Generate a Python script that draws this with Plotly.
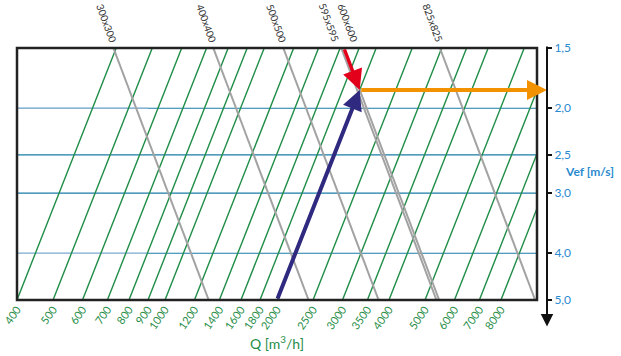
import numpy as np
import plotly.graph_objects as go

# ---- data ----
Q_ticks = [400, 500, 600, 700, 800, 900, 1000, 1200, 1400, 1600, 1800, 2000,
           2500, 3000, 3500, 4000, 5000, 6000, 7000, 8000]          # m3/h at the 5,0 m/s baseline
V_ticks = [1.5, 2.0, 2.5, 3.0, 4.0, 5.0]                              # Vef [m/s]
V_labels = ["1,5", "2,0", "2,5", "3,0", "4,0", "5,0"]
V_guides = [2.0, 2.5, 3.0, 4.0]
grille_labels = ["300x300", "400x400", "500x500", "595x595", "600x600", "825x825"]
grille_aef = [0.0728, 0.1351, 0.2084, 0.2982, 0.3032, 0.5493]          # effective area [m2]
sel_Q = 2000
sel_grille = "600x600"

# ---- nomogram geometry ----
V_REF = 5.0
EXP = 0.51
V_MIN, V_MAX = 1.5, 5.0
X_MIN, X_MAX = 400, 10000


def xpos(q, v):
    return q * (V_REF / v) ** EXP


GREEN = "#1f8d47"
GREY = "#a2a2a2"
TEAL = "#1a7ca6"
LIGHT = "#9dbddb"

fig = go.Figure()

# horizontal velocity guides
for v in V_guides:
    fig.add_trace(go.Scatter(x=[X_MIN, X_MAX], y=[v, v], mode="lines",
                             line=dict(color=TEAL, width=1.1), hoverinfo="skip", showlegend=False))
    if v in (2.0, 4.0):
        fig.add_trace(go.Scatter(x=[X_MIN, 900], y=[v, v], mode="lines",
                                 line=dict(color=LIGHT, width=1.3), hoverinfo="skip", showlegend=False))

# constant-flow lines
for q in Q_ticks:
    vv = np.array([V_MAX, V_MIN])
    fig.add_trace(go.Scatter(x=xpos(q, vv), y=vv, mode="lines",
                             line=dict(color=GREEN, width=1.4), hoverinfo="skip", showlegend=False))

# grille lines (constant effective area)
for lab, a in zip(grille_labels, grille_aef):
    vv = np.array([V_MIN, V_MAX])
    fig.add_trace(go.Scatter(x=xpos(3600 * a * vv, vv), y=vv, mode="lines",
                             line=dict(color=GREY, width=2), hoverinfo="skip", showlegend=False))

XDOM = 520 / 530.0
AXIS_X = 1.0 / XDOM   # right axis position in x-domain units
annotations = []
label_shift = {"595x595": 2, "600x600": 18}
for lab, a in zip(grille_labels, grille_aef):
    xt = xpos(3600 * a * V_MIN, V_MIN)
    annotations.append(dict(x=np.log10(xt), y=np.log10(V_MIN), xref="x", yref="y",
                            text=lab, showarrow=False, textangle=70,
                            xanchor="right", yanchor="bottom", yshift=3,
                            xshift=label_shift.get(lab, 7), borderpad=0,
                            font=dict(family="Lato", size=10, color="#333333")))

# selected operating point
a_sel = grille_aef[grille_labels.index(sel_grille)]
v_int = sel_Q / (3600 * a_sel)
x_int = xpos(sel_Q, v_int)
x_red = xpos(3600 * a_sel * V_MIN, V_MIN)

annotations.append(dict(x=np.log10(x_int), y=np.log10(v_int), xref="x", yref="y",
                        ax=np.log10(sel_Q), ay=np.log10(V_MAX), axref="x", ayref="y",
                        text="", showarrow=True, arrowhead=2, arrowsize=1.0,
                        arrowwidth=4, arrowcolor="#2f2a7f", standoff=0))
annotations.append(dict(x=np.log10(x_int), y=np.log10(v_int), xref="x", yref="y",
                        ax=np.log10(x_red), ay=np.log10(V_MIN), axref="x", ayref="y",
                        text="", showarrow=True, arrowhead=2, arrowsize=1.15,
                        arrowwidth=3.5, arrowcolor="#e3001b", standoff=0))
lx = np.log10
dx_int = (lx(x_int) - lx(X_MIN)) / (lx(X_MAX) - lx(X_MIN))
annotations.append(dict(x=AXIS_X, y=np.log10(v_int), xref="x domain", yref="y",
                        ax=dx_int, ay=np.log10(v_int), axref="x domain", ayref="y",
                        text="", showarrow=True, arrowhead=2, arrowsize=1.0,
                        arrowwidth=4, arrowcolor="#f39200", standoff=0))

# right axis line with arrow
annotations.append(dict(x=AXIS_X, y=-0.105, xref="x domain", yref="y domain",
                        ax=AXIS_X, ay=1.012, axref="x domain", ayref="y domain",
                        text="", showarrow=True, arrowhead=2, arrowsize=1.25,
                        arrowwidth=2, arrowcolor="#111111", standoff=0))
annotations.append(dict(x=1.081, y=0.508, xref="paper", yref="paper",
                        xanchor="center", yanchor="middle",
                        text="<b>Vef [m/s]</b>", showarrow=False,
                        font=dict(family="Lato", size=12, color="#2a8ad0")))

fig.update_layout(
    width=621, height=356,
    margin=dict(l=17, r=74, t=48, b=56, autoexpand=False),
    paper_bgcolor="white", plot_bgcolor="white",
    annotations=annotations,
    shapes=[dict(type="rect", xref="x domain", yref="y domain", x0=0, x1=1, y0=0, y1=1,
                 line=dict(color="#222222", width=2.5), layer="above")],
    xaxis=dict(type="log", range=[np.log10(X_MIN), np.log10(X_MAX)], domain=[0, XDOM],
               automargin=False,
               tickvals=Q_ticks, ticktext=[str(q) for q in Q_ticks], tickangle=-55,
               tickfont=dict(family="Lato", size=11, color="#1f8d47"),
               showgrid=False, zeroline=False, showline=False, ticks="",
               title=dict(text="Q [m<sup>3</sup>/h]", standoff=8,
                          font=dict(family="Lato", size=14, color="#1f8d47"))),
    yaxis=dict(type="log", range=[np.log10(V_MAX), np.log10(V_MIN)],
               side="right", anchor="free", position=1.0, automargin=False,
               tickvals=V_ticks, ticktext=V_labels,
               tickfont=dict(family="Lato", size=12, color="#2a8ad0"),
               ticks="outside", ticklen=4, tickwidth=1.5, tickcolor="#111111",
               showgrid=False, zeroline=False, showline=False),
)

fig.write_html("out.html", config={"displayModeBar": False},
               post_script="document.body.style.margin='0';")
